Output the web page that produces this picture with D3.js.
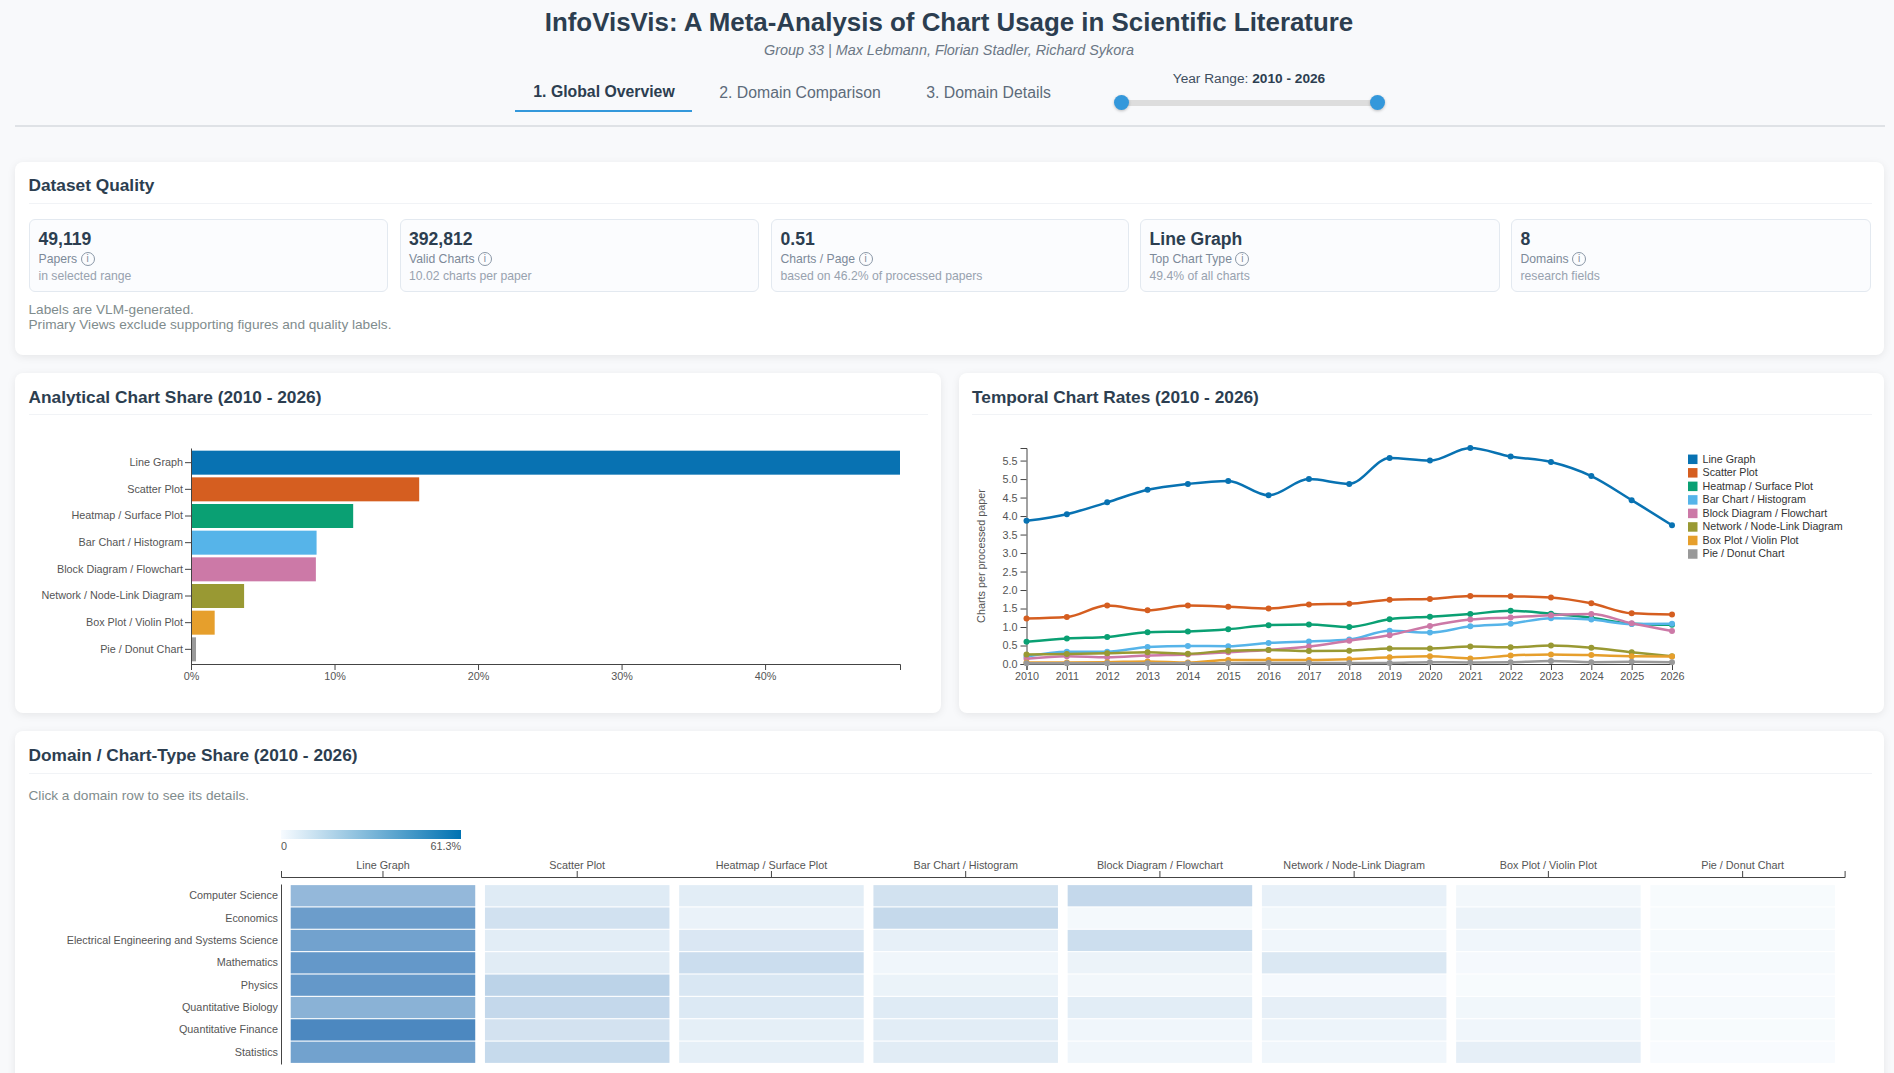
<!DOCTYPE html>
<html>
<head>
<meta charset="UTF-8">
<title>InfoVisVis</title>
<style>
html, body { margin: 0; padding: 0; width: 1894px; height: 1073px; overflow: hidden; background: #f8f9fb; }
body { font-family: "Liberation Sans", Arial, sans-serif; color: #2c3e50; position: relative; }
.abs { position: absolute; white-space: nowrap; }
.center { transform: translate(-50%, -50%); }
.mid { transform: translateY(-50%); }
.title { font-size: 25.9px; font-weight: 700; }
.subtitle { font-size: 14.4px; font-style: italic; color: #6b7785; }
.tab { font-size: 15.8px; color: #5d6b7a; }
.tab.active { font-weight: 700; color: #2c3e50; }
.card { position: absolute; background: #fff; border-radius: 8px; box-shadow: 0 2px 8px rgba(0,0,0,.08); }
.card-title { font-size: 17.3px; font-weight: 700; }
.rule { position: absolute; height: 1px; background: #f1f3f6; }
.note { font-size: 13.65px; color: #7f8c8d; }
.metric { position: absolute; top: 219px; height: 73px; box-sizing: border-box; background: #fbfcfe; border: 1px solid #e3e9f0; border-radius: 6px; }
.metric .value { position: absolute; left: 8.5px; top: 9px; font-size: 17.6px; font-weight: 700; line-height: 20px; }
.metric .label { position: absolute; left: 8.5px; top: 31px; font-size: 12.2px; color: #7d8a99; line-height: 16px; white-space: nowrap; }
.metric .sub { position: absolute; left: 8.5px; top: 48px; font-size: 12.2px; color: #98a2af; line-height: 16px; white-space: nowrap; }
.info { display: inline-block; width: 12px; height: 12px; line-height: 12px; border: 1px solid #8a97a6; border-radius: 50%; text-align: center; font-size: 10px; color: #7d8a99; margin-left: 3.5px; vertical-align: 1px; }
.track { position: absolute; left: 1122px; top: 100px; width: 255px; height: 6px; background: #ddd; border-radius: 3px; }
.thumb { position: absolute; width: 15px; height: 15px; top: 95px; border-radius: 50%; background: #3498db; box-shadow: 0 1px 3px rgba(0,0,0,.25); }
svg { position: absolute; left: 0; top: 0; }
.axis text { font-family: "Liberation Sans", Arial, sans-serif; font-size: 10.8px; fill: #555; }
.axis path, .axis line { stroke: #444; }
</style>
</head>
<body>
<div class="abs center title" style="left:949px;top:22px">InfoVisVis: A Meta-Analysis of Chart Usage in Scientific Literature</div>
<div class="abs center subtitle" style="left:949px;top:50px">Group 33 | Max Lebmann, Florian Stadler, Richard Sykora</div>
<div class="abs center tab active" style="left:604px;top:91.5px">1. Global Overview</div>
<div class="abs center tab" style="left:800px;top:92.5px">2. Domain Comparison</div>
<div class="abs center tab" style="left:988.5px;top:92.5px">3. Domain Details</div>
<div class="abs" style="left:515px;top:109.5px;width:177px;height:2.5px;background:#3498db"></div>
<div class="abs center" style="left:1249px;top:78px;font-size:13.7px;color:#3f4f5f">Year Range: <b style="color:#2c3e50">2010 - 2026</b></div>
<div class="track"></div>
<div class="thumb" style="left:1114px"></div>
<div class="thumb" style="left:1369.5px"></div>
<div class="abs" style="left:15px;top:125px;width:1870px;height:1.5px;background:#dfe2e6"></div>

<div class="card" style="left:15px;top:162px;width:1869px;height:193px"></div>
<div class="card" style="left:15px;top:373px;width:926px;height:340px"></div>
<div class="card" style="left:959px;top:373px;width:925px;height:340px"></div>
<div class="card" style="left:15px;top:731px;width:1869px;height:420px"></div>

<div class="abs mid card-title" style="left:28.5px;top:185px">Dataset Quality</div>
<div class="rule" style="left:29px;top:203px;width:1843px"></div>
<div id="metrics"></div>
<div class="abs mid note" style="left:28.5px;top:308.5px">Labels are VLM-generated.</div>
<div class="abs mid note" style="left:28.5px;top:323.5px">Primary Views exclude supporting figures and quality labels.</div>

<div class="abs mid card-title" style="left:28.5px;top:396.5px">Analytical Chart Share (2010 - 2026)</div>
<div class="rule" style="left:29px;top:414px;width:899px"></div>
<div class="abs mid card-title" style="left:972px;top:396.5px">Temporal Chart Rates (2010 - 2026)</div>
<div class="rule" style="left:972px;top:414px;width:900px"></div>
<div class="abs mid card-title" style="left:28.5px;top:755px">Domain / Chart-Type Share (2010 - 2026)</div>
<div class="rule" style="left:29px;top:773px;width:1843px"></div>
<div class="abs mid note" style="left:28.5px;top:795px">Click a domain row to see its details.</div>

<svg id="chart" width="1894" height="1073"></svg>

<script src="https://cdn.jsdelivr.net/npm/d3@7/dist/d3.min.js"></script>
<script>
const metricValues = ['49,119', '392,812', '0.51', 'Line Graph', '8'];
const metricLabels = ['Papers', 'Valid Charts', 'Charts / Page', 'Top Chart Type', 'Domains'];
const metricNotes = ['in selected range', '10.02 charts per paper', 'based on 46.2% of processed papers', '49.4% of all charts', 'research fields'];

const chartTypes = ['Line Graph', 'Scatter Plot', 'Heatmap / Surface Plot', 'Bar Chart / Histogram',
    'Block Diagram / Flowchart', 'Network / Node-Link Diagram', 'Box Plot / Violin Plot', 'Pie / Donut Chart'];
const typeColors = ['#0872b2', '#d55e20', '#0aa073', '#56b4e9', '#cc79a7', '#999933', '#e69f2c', '#999999'];
const chartShare = [49.4, 15.9, 11.3, 8.75, 8.7, 3.7, 1.65, 0.35];

const years = d3.range(2010, 2027);
const rateLine = [3.87, 4.05, 4.37, 4.71, 4.87, 4.95, 4.56, 5.0, 4.87, 5.57, 5.5, 5.84, 5.61, 5.46, 5.08, 4.43, 3.75];
const rateScatter = [1.23, 1.27, 1.58, 1.45, 1.58, 1.55, 1.5, 1.61, 1.63, 1.74, 1.76, 1.84, 1.83, 1.8, 1.64, 1.37, 1.34];
const rateHeatmap = [0.6, 0.69, 0.73, 0.86, 0.88, 0.94, 1.05, 1.07, 1.0, 1.21, 1.28, 1.35, 1.44, 1.36, 1.25, 1.09, 1.06];
const rateBar = [0.2, 0.33, 0.33, 0.46, 0.49, 0.48, 0.57, 0.61, 0.66, 0.9, 0.85, 1.02, 1.09, 1.24, 1.2, 1.08, 1.09];
const rateBlock = [0.14, 0.21, 0.18, 0.23, 0.26, 0.32, 0.38, 0.47, 0.63, 0.78, 1.03, 1.2, 1.26, 1.32, 1.35, 1.1, 0.89];
const rateNetwork = [0.26, 0.27, 0.29, 0.32, 0.28, 0.36, 0.38, 0.35, 0.36, 0.42, 0.42, 0.47, 0.45, 0.5, 0.44, 0.32, 0.21];
const rateBox = [0.04, 0.04, 0.05, 0.07, 0.04, 0.11, 0.11, 0.11, 0.13, 0.18, 0.21, 0.15, 0.23, 0.26, 0.24, 0.21, 0.2];
const ratePie = [0.02, 0.02, 0.02, 0.02, 0.02, 0.02, 0.03, 0.03, 0.03, 0.03, 0.05, 0.04, 0.05, 0.08, 0.05, 0.06, 0.05];
const rates = [rateLine, rateScatter, rateHeatmap, rateBar, rateBlock, rateNetwork, rateBox, ratePie];

const domains = ['Computer Science', 'Economics', 'Electrical Engineering and Systems Science', 'Mathematics',
    'Physics', 'Quantitative Biology', 'Quantitative Finance', 'Statistics'];
const shareCS = [35.8, 9.2, 8.1, 13.8, 18.8, 6.4, 2.5, 0.7];
const shareEcon = [50, 14.2, 5.3, 18.4, 1.8, 2.8, 4.6, 0.7];
const shareEESS = [47.8, 8.1, 11, 6.4, 15.9, 3.2, 3.2, 1];
const shareMath = [52.8, 8.5, 16.3, 3.2, 4.6, 10.6, 1.4, 1];
const sharePhys = [52.8, 21.6, 11.3, 5, 2.5, 1.4, 0.7, 0.4];
const shareQBio = [39.3, 18.8, 10.3, 9.2, 8.1, 6.7, 2.8, 1];
const shareQFin = [61.3, 13.5, 7.1, 8.1, 3.2, 4.2, 3.2, 0.7];
const shareStat = [47.8, 18.1, 7.1, 8.5, 3.2, 3.2, 6.7, 0.4];
const shares = [shareCS, shareEcon, shareEESS, shareMath, sharePhys, shareQBio, shareQFin, shareStat];

// metric boxes
const metricLeft = [29, 399.5, 771, 1140, 1511];
const metricWidth = [359, 359.5, 358, 360, 359.5];
const metric = d3.select('#metrics').selectAll('div').data(metricValues).join('div')
    .attr('class', 'metric')
    .style('left', (d, i) => metricLeft[i] + 'px')
    .style('width', (d, i) => metricWidth[i] + 'px');
metric.append('div').attr('class', 'value').text(d => d);
const lab = metric.append('div').attr('class', 'label').text((d, i) => metricLabels[i]);
lab.append('span').attr('class', 'info').text('i');
metric.append('div').attr('class', 'sub').text((d, i) => metricNotes[i]);

const svg = d3.select('#chart');

// bar chart
const barX = d3.scaleLinear().domain([0, d3.max(chartShare)]).range([191, 900]);
const barY = d3.scaleBand().domain(chartTypes).range([448, 664]).padding(0.1);

svg.append('g').selectAll('rect').data(chartShare).join('rect')
    .attr('x', barX(0))
    .attr('y', (d, i) => barY(chartTypes[i]))
    .attr('width', d => barX(d) - barX(0))
    .attr('height', barY.bandwidth())
    .attr('fill', (d, i) => typeColors[i]);

svg.append('g').attr('class', 'axis')
    .attr('transform', 'translate(0,664)')
    .call(d3.axisBottom(barX).tickValues([0, 10, 20, 30, 40]).tickFormat(d => d + '%').tickPadding(2));
svg.append('g').attr('class', 'axis')
    .attr('transform', 'translate(191,0)')
    .call(d3.axisLeft(barY).tickSizeOuter(0).tickPadding(2));

// line chart
const lineX = d3.scaleLinear().domain([2010, 2026]).range([1026.5, 1672]);
const lineY = d3.scaleLinear().domain([0, d3.max(rateLine)]).range([664, 448]);
const line = d3.line()
    .x((d, i) => lineX(years[i]))
    .y(d => lineY(d))
    .curve(d3.curveMonotoneX);

svg.append('g').attr('class', 'axis')
    .attr('transform', 'translate(0,664)')
    .call(d3.axisBottom(lineX).tickValues(years).tickFormat(d3.format('d')).tickPadding(2));
svg.append('g').attr('class', 'axis')
    .attr('transform', 'translate(1026.5,0)')
    .call(d3.axisLeft(lineY).tickValues(d3.range(0, 5.6, 0.5)).tickFormat(d3.format('.1f')));

svg.append('text')
    .attr('class', 'axis-title')
    .attr('transform', 'translate(985,556) rotate(-90)')
    .attr('text-anchor', 'middle')
    .attr('font-size', 10.8)
    .attr('fill', '#555')
    .text('Charts per processed paper');

rates.forEach((series, k) => {
    svg.append('path')
        .attr('d', line(series))
        .attr('fill', 'none')
        .attr('stroke', typeColors[k])
        .attr('stroke-width', 2.5);
    svg.append('g').selectAll('circle').data(series).join('circle')
        .attr('cx', (d, i) => lineX(years[i]))
        .attr('cy', d => lineY(d))
        .attr('r', 3)
        .attr('fill', typeColors[k]);
});

const legendY = d3.scalePoint().domain(chartTypes).range([459.3, 554]);
const legend = svg.append('g').selectAll('g').data(chartTypes).join('g')
    .attr('transform', d => `translate(1688,${legendY(d)})`);
legend.append('rect')
    .attr('y', -4.75)
    .attr('width', 9.5)
    .attr('height', 9.5)
    .attr('fill', (d, i) => typeColors[i]);
legend.append('text')
    .attr('x', 14.5)
    .attr('dy', '0.32em')
    .attr('font-size', 10.7)
    .attr('fill', '#333')
    .text(d => d);

// heatmap
const heatX = d3.scaleBand().domain(chartTypes).range([281, 1844.6]).padding(0.05);
const heatY = d3.scaleBand().domain(domains).range([884, 1064]).padding(0.05);
const heatColor = d3.scaleLinear().domain([0, 61.3]).range(['#f9fcfe', '#4c88c0']);

const rows = svg.append('g').selectAll('g').data(shares).join('g')
    .attr('transform', (d, i) => `translate(0,${heatY(domains[i])})`);
rows.selectAll('rect').data(d => d).join('rect')
    .attr('x', (d, i) => heatX(chartTypes[i]))
    .attr('width', heatX.bandwidth())
    .attr('height', heatY.bandwidth())
    .attr('fill', d => heatColor(d));

svg.append('g').attr('class', 'axis')
    .attr('transform', 'translate(0,877)')
    .call(d3.axisTop(heatX).tickPadding(2));
svg.append('g').attr('class', 'axis')
    .attr('transform', 'translate(281,0)')
    .call(d3.axisLeft(heatY).tickSize(0).tickPadding(3));

// colour legend
const lg = svg.append('defs').append('linearGradient').attr('id', 'heatGradient');
lg.append('stop').attr('offset', '0%').attr('stop-color', '#f7fbff');
lg.append('stop').attr('offset', '100%').attr('stop-color', '#0072b2');
const legendX = d3.scaleLinear().domain([0, 61.3]).range([281, 461]);
svg.append('rect')
    .attr('x', legendX(0))
    .attr('y', 830)
    .attr('width', legendX(61.3) - legendX(0))
    .attr('height', 9)
    .attr('fill', 'url(#heatGradient)');
svg.append('g').selectAll('text').data([0, 61.3]).join('text')
    .attr('x', d => legendX(d))
    .attr('y', 849.5)
    .attr('text-anchor', d => d ? 'end' : 'start')
    .attr('font-size', 10.8)
    .attr('fill', '#555')
    .text(d => d ? d + '%' : '0');
</script>
</body>
</html>
